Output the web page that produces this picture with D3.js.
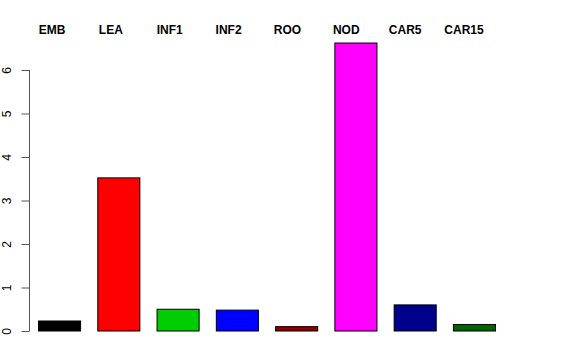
<!DOCTYPE html>
<html>
<head>
<meta charset="utf-8">
<script src="https://cdn.jsdelivr.net/npm/d3@7"></script>
<style>
  body { margin: 0; background: #fff; }
  text { font-family: "Liberation Sans", Arial, Helvetica, sans-serif; }
</style>
</head>
<body>
<svg width="576" height="360"></svg>
<script>
const categories = ['EMB', 'LEA', 'INF1', 'INF2', 'ROO', 'NOD', 'CAR5', 'CAR15'];
const values = [0.23, 3.52, 0.50, 0.48, 0.10, 6.62, 0.60, 0.15];
const colors = ['#000000', '#ff0000', '#00cd00', '#0000ff', '#8b0000', '#ff00ff', '#00008b', '#006400'];
const yTicks = [0, 1, 2, 3, 4, 5, 6];

const svg = d3.select('svg');

const x = d3.scaleBand()
    .domain(categories)
    .range([38, 495])
    .paddingInner(0.29)
    .paddingOuter(0);

const y = d3.scaleLinear()
    .domain([0, 6])
    .range([331, 70]);

// bars
svg.append('g')
  .selectAll('rect')
  .data(categories)
  .join('rect')
    .attr('x', d => x(d) + 0.5)
    .attr('y', (d, i) => y(values[i]))
    .attr('width', x.bandwidth())
    .attr('height', (d, i) => y(0) - y(values[i]))
    .attr('fill', (d, i) => colors[i])
    .attr('stroke', '#000')
    .attr('stroke-width', 1);

// y axis
const yAxis = svg.append('g')
    .attr('transform', 'translate(29.5,0)')
    .call(d3.axisLeft(y).tickValues(yTicks).tickSize(8).tickPadding(0).tickFormat(d3.format('d')));

yAxis.select('.domain').attr('d', `M0,${y(6)}V${y(0)}`).attr('stroke', '#555');
yAxis.selectAll('.tick line').attr('stroke', '#555');
yAxis.selectAll('.tick text')
    .attr('transform', 'translate(-22.5,0) rotate(-90)')
    .attr('x', 0)
    .attr('dy', '0.35em')
    .attr('text-anchor', 'middle')
    .style('font-size', '12px')
    .attr('fill', '#000');

// category labels across the top
const labelX = d3.scalePoint()
    .domain(categories)
    .range([52, 464]);

svg.append('g')
  .selectAll('text')
  .data(categories)
  .join('text')
    .attr('x', d => labelX(d))
    .attr('y', 34)
    .attr('text-anchor', 'middle')
    .style('font-size', '12px')
    .style('font-weight', 'bold')
    .text(d => d);
</script>
</body>
</html>
